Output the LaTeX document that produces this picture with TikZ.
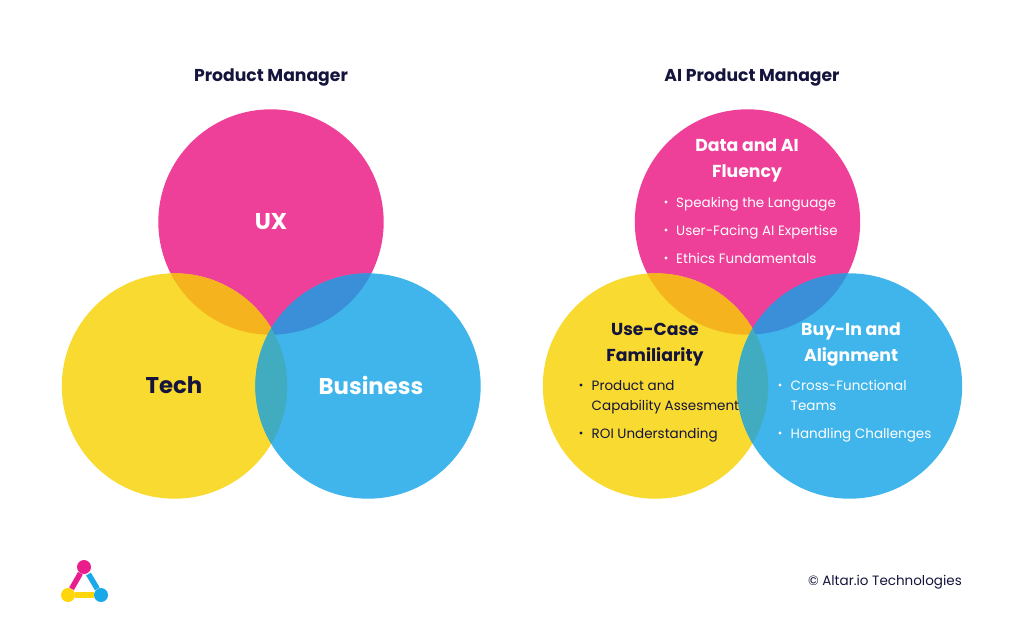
\documentclass[tikz,border=0pt]{standalone}
\usepackage{fontspec}
\setmainfont{Poppins}
\definecolor{vennpink}{HTML}{EE4098}
\definecolor{vennyellow}{HTML}{F8DA30}
\definecolor{vennblue}{HTML}{3FB5EC}
\definecolor{mixorange}{HTML}{F5B31E}
\definecolor{mixindigo}{HTML}{3B8FD9}
\definecolor{mixteal}{HTML}{41ACC0}
\definecolor{inkdark}{HTML}{14143C}
\definecolor{logopink}{HTML}{E91E8C}
\definecolor{logoyellow}{HTML}{FFD60A}
\definecolor{logoblue}{HTML}{1AA9E8}
\tikzset{
  title/.style={font=\fontsize{17.2}{17.2}\selectfont\bfseries, text=inkdark, inner sep=0pt},
  bigword/.style={font=\fontsize{22.8}{22.8}\selectfont\bfseries, inner sep=0pt},
  head/.style={font=\fontsize{17.3}{26}\selectfont\bfseries, align=center, inner sep=0pt},
  item/.style={font=\fontsize{13.5}{20.5}\selectfont, align=left, anchor=north west, inner sep=0pt},
  bullet/.style={circle, minimum size=3.4pt, inner sep=0pt},
  logodot/.style={circle, minimum size=14pt, inner sep=0pt},
}
\newcommand{\venn}[3]{%
  % pink, yellow, blue and their overlaps; the x of each circle
  \fill[vennpink] (#1,222) circle (112.7);
  \fill[vennyellow] (#2,386) circle (112.7);
  \fill[vennblue] (#3,386) circle (112.7);
  \begin{scope}
    \clip (#1,222) circle (112.7);
    \fill[mixorange] (#2,386) circle (112.7);
    \fill[mixindigo] (#3,386) circle (112.7);
  \end{scope}
  \begin{scope}
    \clip (#2,386) circle (112.7);
    \fill[mixteal] (#3,386) circle (112.7);
  \end{scope}}
\begin{document}
\begin{tikzpicture}[x=1pt, y=-1pt]
  \useasboundingbox (0,0) rectangle (1024,633);
  \venn{271}{174.5}{368}
  \venn{747.5}{655.5}{849.5}
  % left
  \node[title] (pmtitle) at (271,77) {Product Manager};
  \node[bigword, text=white] (ux) at (271,222) {UX};
  \node[bigword, text=inkdark] (tech) at (174,385) {Tech};
  \node[bigword, text=white] (business) at (371,385) {Business};
  % right
  \node[title] (aititle) at (752,77) {AI Product Manager};
  \node[head, text=white] (data) at (747,160.5) {Data and AI\\Fluency};
  \node[bullet, fill=white] at (666,202) {};
  \node[item, text=white] (speak) at (676,197) {Speaking the Language};
  \node[bullet, fill=white] at (666,230) {};
  \node[item, text=white] (user) at (676,225) {User-Facing AI Expertise};
  \node[bullet, fill=white] at (666,258) {};
  \node[item, text=white] (ethics) at (676,253) {Ethics Fundamentals};
  \node[head, text=inkdark] (usecase) at (655,344.5) {Use-Case\\Familiarity};
  \node[bullet, fill=inkdark] at (581,385) {};
  \node[item, text=inkdark] (product) at (591.5,380) {Product and\\Capability Assesment};
  \node[bullet, fill=inkdark] at (581,433) {};
  \node[item, text=inkdark] (roi) at (591.5,428) {ROI Understanding};
  \node[head, text=white] (buyin) at (851,344.5) {Buy-In and\\Alignment};
  \node[bullet, fill=white] at (780,385) {};
  \node[item, text=white] (cross) at (790.5,380) {Cross-Functional\\Teams};
  \node[bullet, fill=white] at (780,433) {};
  \node[item, text=white] (handling) at (790.5,428) {Handling Challenges};
  % logo
  \node[logodot, fill=logopink] (lp) at (84,567) {};
  \node[logodot, fill=logoyellow] (ly) at (68,595) {};
  \node[logodot, fill=logoblue] (lb) at (101,595) {};
  \draw[logoyellow, line width=5.5pt] (ly) -- (lb);
  \draw[logopink, line width=5.5pt] (lp) -- (ly);
  \draw[logoblue, line width=5.5pt] (lp) ++(4.5,7) -- (lb);
  \node[font=\fontsize{13.5}{13.5}\selectfont, text=inkdark, anchor=east, inner sep=0pt] (copyright) at (962,582.5) {© Altar.io Technologies};
\end{tikzpicture}
\end{document}
